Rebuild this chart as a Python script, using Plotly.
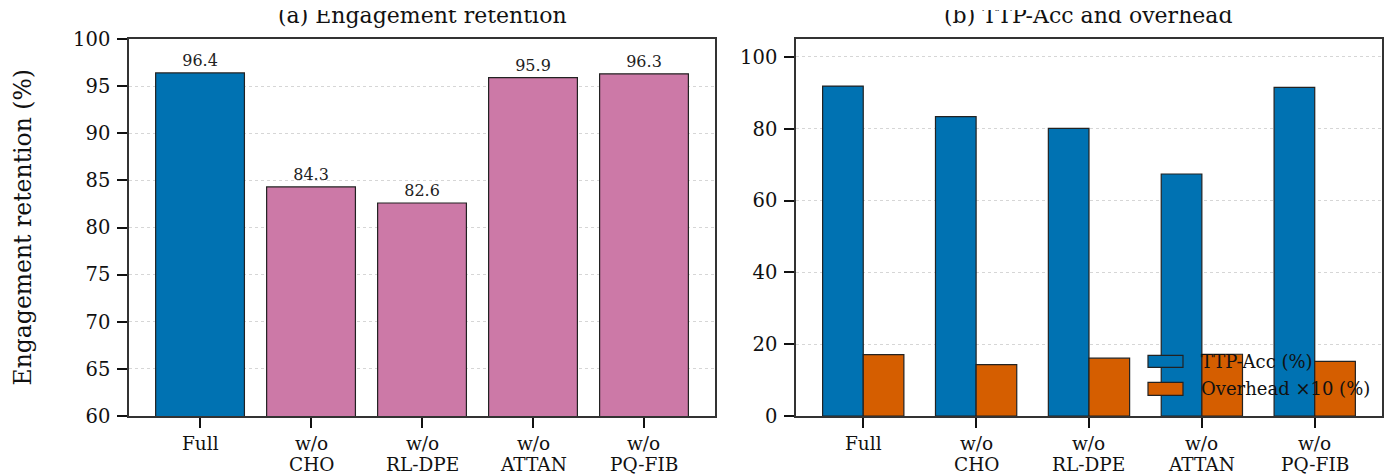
import plotly.graph_objects as go

# Ablation variants shown on both panels
categories = ["Full", "w/o<br>CHO", "w/o<br>RL-DPE", "w/o<br>ATTAN", "w/o<br>PQ-FIB"]

# Panel (a): engagement retention (%)
retention = [96.4, 84.3, 82.6, 95.9, 96.3]

# Panel (b): TTP accuracy and scaled overhead (%)
ttp_acc = [91.9, 83.4, 80.1, 67.4, 91.5]
overhead_x10 = [17.1, 14.3, 16.1, 17.2, 15.2]

series_names = ["TTP-Acc (%)", "Overhead ×10 (%)"]

BLUE = "#0072B2"
PINK = "#CC79A7"
ORANGE = "#D55E00"
EDGE = "#222222"
FONT = "DejaVu Serif"
TICK_SIZE = 19.5

fig = go.Figure()

# (a) retention bars: the full model in blue, ablations in pink
fig.add_trace(go.Bar(
    x=categories, y=retention, width=0.8,
    marker=dict(color=[BLUE] + [PINK] * (len(categories) - 1),
                line=dict(color=EDGE, width=1.2)),
    text=[f"{v:.1f}" for v in retention], textposition="outside",
    textfont=dict(family=FONT, size=16, color="#222"),
    cliponaxis=False, showlegend=False, xaxis="x", yaxis="y",
))

# (b) grouped bars, side by side around each category
fig.add_trace(go.Bar(
    x=categories, y=ttp_acc, width=0.36, offset=-0.36, name=series_names[0],
    marker=dict(color=BLUE, line=dict(color=EDGE, width=1.2)),
    showlegend=False, xaxis="x2", yaxis="y2",
))
fig.add_trace(go.Bar(
    x=categories, y=overhead_x10, width=0.36, offset=0.0, name=series_names[1],
    marker=dict(color=ORANGE, line=dict(color=EDGE, width=1.2)),
    showlegend=False, xaxis="x2", yaxis="y2",
))

axis_common = dict(
    showline=True, mirror=True, linecolor="#333", linewidth=1.5,
    ticks="outside", ticklen=10, tickwidth=1.6, tickcolor="#111",
    tickfont=dict(family=FONT, size=TICK_SIZE, color="#111"),
    zeroline=False, automargin=False,
)
grid = dict(showgrid=True, gridcolor="#d6d6d6", gridwidth=0.8, griddash="dot")

fig.update_layout(
    width=1390, height=476,
    margin=dict(l=129, r=8, t=39, b=60),
    paper_bgcolor="white", plot_bgcolor="white",
    barmode="overlay",
    xaxis=dict(domain=[0, 0.4677], range=[-0.64, 4.64], showgrid=False,
               showticklabels=False, **axis_common),
    yaxis=dict(range=[60, 100], tickvals=list(range(60, 101, 5)),
               ticklabelstandoff=3, **grid, **axis_common),
    xaxis2=dict(domain=[0.5323, 1], range=[-0.596, 4.596], anchor="y2", showgrid=False,
                showticklabels=False, **axis_common),
    yaxis2=dict(range=[0, 105], tickvals=list(range(0, 101, 20)), anchor="x2",
                ticklabelstandoff=3, **grid, **axis_common),
)

title_font = dict(family=FONT, size=22, color="#111")
annotations = [
    dict(text="(a) Engagement retention", xref="x domain", yref="paper", x=0.5, y=1,
         xanchor="center", yanchor="bottom", yshift=9, showarrow=False, font=title_font),
    dict(text="(b) TTP-Acc and overhead", xref="x2 domain", yref="paper", x=0.5, y=1,
         xanchor="center", yanchor="bottom", yshift=9, showarrow=False, font=title_font),
    # the page is trimmed just above the panel titles
    dict(text=" ", xref="paper", yref="paper", x=0.5, y=1, xanchor="center",
         yanchor="bottom", yshift=29, width=1390, height=12, bgcolor="white",
         borderpad=0, borderwidth=0, showarrow=False, font=dict(size=4)),
    dict(text="Engagement retention (%)", xref="paper", yref="paper", x=0, y=0.5,
         xshift=-107, xanchor="center", yanchor="middle", textangle=-90, showarrow=False,
         font=dict(family=FONT, size=23.5, color="#111")),
]

# Category labels under both panels, one annotation per text line
tick_font = dict(family=FONT, size=18.5, color="#111")
for xref in ("x", "x2"):
    for cat in categories:
        for row, line in enumerate(cat.split("<br>")):
            annotations.append(dict(text=line, xref=xref, yref="paper", x=cat, y=0,
                                    xanchor="center", yanchor="middle",
                                    yshift=-27 - 21 * row, showarrow=False,
                                    borderpad=0, font=tick_font))

# Legend for panel (b), drawn as swatches plus labels in the lower right
legend_rows = [(series_names[0], BLUE, 0.1607, 0.1289),
               (series_names[1], ORANGE, 0.0892, 0.0548)]
shapes = []
for name, color, y_top, y_bot in legend_rows:
    shapes.append(dict(type="rect", xref="x2 domain", yref="y2 domain",
                       x0=0.6007, x1=0.6604, y0=y_bot, y1=y_top,
                       fillcolor=color, line=dict(color=EDGE, width=1.2)))
    annotations.append(dict(text=name, xref="x2 domain", yref="y2 domain",
                            x=0.6877, y=(y_top + y_bot) / 2, xanchor="left",
                            yanchor="middle", showarrow=False,
                            font=dict(family=FONT, size=18, color="#111")))

fig.update_layout(annotations=annotations, shapes=shapes)

fig.write_html("out.html")
